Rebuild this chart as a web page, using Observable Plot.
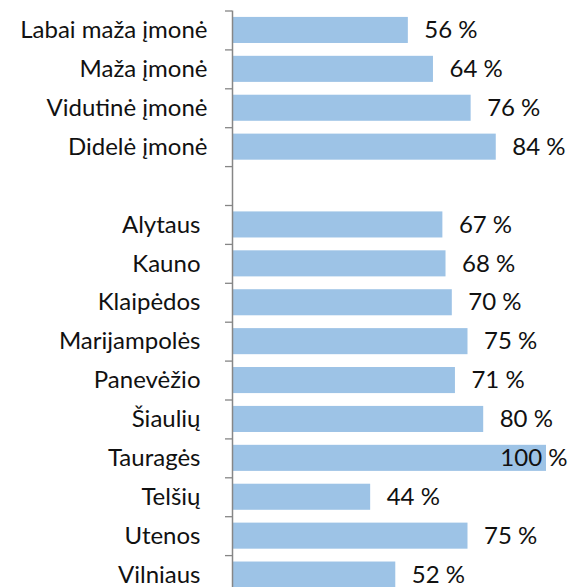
<!DOCTYPE html>
<html>
<head>
<meta charset="utf-8">
<script src="https://cdn.jsdelivr.net/npm/d3@7"></script>
<script src="https://cdn.jsdelivr.net/npm/@observablehq/plot@0.6"></script>
<style>
  html, body { margin: 0; padding: 0; background: #fff; overflow: hidden; }
  #chart { width: 568px; height: 587px; overflow: hidden; }
</style>
</head>
<body>
<div id="chart"></div>
<script>
const sizeCategories = ["Labai maža įmonė", "Maža įmonė", "Vidutinė įmonė", "Didelė įmonė"];
const sizeValues = [56, 64, 76, 84];
const regionCategories = ["Alytaus", "Kauno", "Klaipėdos", "Marijampolės", "Panevėžio", "Šiaulių", "Tauragės", "Telšių", "Utenos", "Vilniaus"];
const regionValues = [67, 68, 70, 75, 71, 80, 100, 44, 75, 52];
const gapCategory = "";

const sizeData = sizeCategories.map((name, i) => ({name, value: sizeValues[i]}));
const regionData = regionCategories.map((name, i) => ({name, value: regionValues[i]}));
const allData = [...sizeData, ...regionData];
const domain = [...sizeCategories, gapCategory, ...regionCategories];

const W = 568, H = 594, mTop = 10.5, mLeft = 232, mRight = 22;
const step = (H - mTop) / domain.length;
const font = "Lato, 'Liberation Sans', sans-serif";

const plot = Plot.plot({
  width: W,
  height: H,
  marginTop: mTop,
  marginBottom: 0,
  marginLeft: mLeft,
  marginRight: mRight,
  style: {fontFamily: font, background: "#fff", overflow: "visible"},
  x: {domain: [0, 100], axis: null},
  y: {domain, paddingInner: 0.33, paddingOuter: 0.165, round: false, axis: null, label: null},
  marks: [
    Plot.barX(allData, {x: "value", y: "name", fill: "#9dc3e6"}),
    Plot.axisY({tickSize: 7, tickFormat: () => "", label: null, dy: -step / 2, stroke: "#868686", strokeWidth: 1.3}),
    Plot.ruleX([0], {stroke: "#868686", strokeWidth: 1.5}),
    Plot.text(sizeData, {y: "name", text: "name", frameAnchor: "left", textAnchor: "end", dx: -25, fontSize: 24, fill: "#111"}),
    Plot.text(regionData, {y: "name", text: "name", frameAnchor: "left", textAnchor: "end", dx: -32, fontSize: 24, fill: "#111"}),
    Plot.text(allData.filter(d => d.value < 100), {x: "value", y: "name", text: d => d.value + " %", textAnchor: "start", dx: 16, fontSize: 24, fill: "#111"}),
    Plot.text(allData.filter(d => d.value >= 100), {x: "value", y: "name", text: d => d.value + " %", textAnchor: "end", dx: 21, fontSize: 24, fill: "#111"})
  ]
});
document.getElementById("chart").appendChild(plot);
</script>
</body>
</html>
